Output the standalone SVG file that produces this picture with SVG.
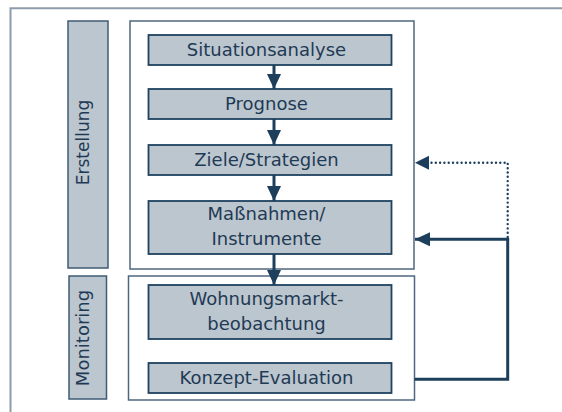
<svg xmlns="http://www.w3.org/2000/svg" width="562" height="412" viewBox="0 0 562 412">
  <defs>
    <style>
      .frame { fill: none; stroke: #8d9cab; stroke-width: 2; }
      .container { fill: #ffffff; stroke: #4f677d; stroke-width: 1.5; }
      .side { fill: #bcc6ce; stroke: #3f5b74; stroke-width: 1.5; }
      .node { fill: #bcc6ce; stroke: #1f4260; stroke-width: 1.8; }
      .txt { font-family: "DejaVu Sans", "Liberation Sans", sans-serif; font-size: 18px; fill: #1f3a55; text-anchor: middle; }
      .flow { fill: none; stroke: #1d3f5c; stroke-width: 3; }
      .dotted { fill: none; stroke: #1d3f5c; stroke-width: 2.4; stroke-linecap: round; stroke-dasharray: 0 4.3; }
    </style>
    <marker id="arrowDown" markerUnits="userSpaceOnUse" markerWidth="16" markerHeight="14" refX="15" refY="7" orient="auto">
      <path d="M0,0 L15,7 L0,14 Z" fill="#1d3f5c"/>
    </marker>
  </defs>

  <!-- outer frame (top and left edges) -->
  <path class="frame" d="M10.5,412 L10.5,8.3 L562,8.3"/>

  <g id="erstellung">
    <rect class="container" x="130" y="21" width="284" height="248"/>
    <rect class="side" x="68" y="21" width="40" height="247"/>
    <text class="txt" style="font-size:17px" transform="translate(89,142.5) rotate(-90)">Erstellung</text>
  </g>

  <g id="monitoring">
    <rect class="container" x="128.5" y="276" width="286" height="124"/>
    <rect class="side" x="69" y="276" width="37.5" height="123"/>
    <text class="txt" transform="translate(89,338) rotate(-90)">Monitoring</text>
  </g>

  <g id="situationsanalyse">
    <rect class="node" x="148.5" y="35" width="243" height="30"/>
    <text class="txt" x="266.5" y="56">Situationsanalyse</text>
  </g>
  <g id="prognose">
    <rect class="node" x="148.5" y="89" width="243" height="30"/>
    <text class="txt" x="266.5" y="110">Prognose</text>
  </g>
  <g id="ziele">
    <rect class="node" x="148.5" y="145" width="243" height="30"/>
    <text class="txt" x="266.5" y="166">Ziele/Strategien</text>
  </g>
  <g id="massnahmen">
    <rect class="node" x="148.5" y="201" width="243" height="53"/>
    <text class="txt" x="266.5" y="220">Maßnahmen/</text>
    <text class="txt" x="266.5" y="245">Instrumente</text>
  </g>
  <g id="wohnungsmarkt">
    <rect class="node" x="148.5" y="285" width="243" height="54"/>
    <text class="txt" x="266.5" y="305">Wohnungsmarkt-</text>
    <text class="txt" x="266.5" y="330">beobachtung</text>
  </g>
  <g id="evaluation">
    <rect class="node" x="148.5" y="363" width="243" height="30"/>
    <text class="txt" x="266.5" y="384">Konzept-Evaluation</text>
  </g>

  <g id="connectors">
    <line class="flow" x1="274" y1="65" x2="274" y2="89" marker-end="url(#arrowDown)"/>
    <line class="flow" x1="274" y1="119" x2="274" y2="145" marker-end="url(#arrowDown)"/>
    <line class="flow" x1="274" y1="175" x2="274" y2="201" marker-end="url(#arrowDown)"/>
    <line class="flow" x1="274" y1="254" x2="274" y2="285" marker-end="url(#arrowDown)"/>
    <path class="flow" d="M414.5,379.3 L507.7,379.3 L507.7,239.3 L415,239.3" marker-end="url(#arrowDown)"/>
    <path class="dotted" d="M507.7,237 L507.7,162.7 L428,162.7"/>
    <path d="M415,162.7 L429,155.7 L429,169.7 Z" fill="#1d3f5c"/>
  </g>
</svg>
